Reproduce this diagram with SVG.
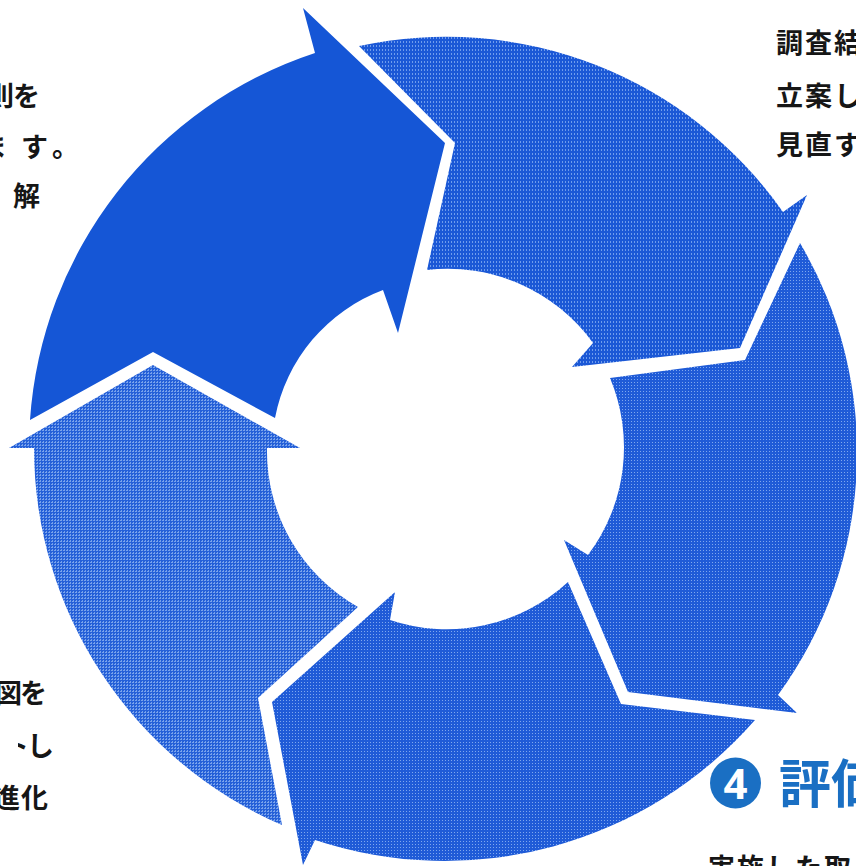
<svg xmlns="http://www.w3.org/2000/svg" width="856" height="866" viewBox="0 0 856 866">
  <style>
    .body { font-family: "Noto Sans CJK JP", "Noto Sans", sans-serif; font-weight: 700; font-size: 27px; fill: #161616; }
    .accent { font-family: "Noto Sans CJK JP", "Noto Sans", sans-serif; font-weight: 700; fill: #1a6fc3; }
    .num { font-family: "Noto Sans", "Liberation Sans", sans-serif; font-weight: 700; fill: #ffffff; }
  </style>
  <defs>
    <pattern id="patA" width="3" height="3" patternUnits="userSpaceOnUse">
      <rect width="3" height="3" fill="#1f5bd7"/>
      <rect x="1" y="1" width="1" height="1" fill="#7ea7ee"/>
    </pattern>
    <pattern id="patB" width="3" height="3" patternUnits="userSpaceOnUse">
      <rect width="3" height="3" fill="#2560d8"/>
      <rect x="1" y="0" width="1" height="1" fill="#78a2ec"/>
      <rect x="0" y="1" width="2" height="1" fill="#78a2ec"/>
    </pattern>
    <pattern id="patC" width="3" height="4" patternUnits="userSpaceOnUse">
      <rect width="3" height="4" fill="#1b58d6"/>
      <rect x="1" y="1" width="1" height="2" fill="#6f9cec"/>
    </pattern>
    <clipPath id="clipTo">
      <rect x="18" y="720" width="8" height="50"/>
    </clipPath>
  </defs>

  <rect width="856" height="866" fill="#ffffff"/>

  <g id="arrow-1">
    <path d="M30,420 A416,416 0 0 1 315,53 L303,8 L445,143 L398,333 L383,290 A171,171 0 0 0 275,418 L153,352 Z" fill="#1556d6"/>
  </g>
  <g id="arrow-2">
    <path d="M359,46 A412,412 0 0 1 783,212 L807,195 L740,348 L572,367 L593,343 A179,179 0 0 0 427,270 L455,143 Z" fill="url(#patC)"/>
  </g>
  <g id="arrow-3">
    <path d="M800,243 A412,412 0 0 1 778,695 L797,713 L628,692 L564,540 L588,555 A179,179 0 0 0 610,378 L745,360 Z" fill="url(#patA)"/>
  </g>
  <g id="arrow-4">
    <path d="M755,720 A412,412 0 0 1 315,840 L303,865 L272,702 L395,592 L390,620 A179,179 0 0 0 568,582 L621,704 Z" fill="url(#patA)"/>
  </g>
  <g id="arrow-5">
    <path d="M282,825 A411,411 0 0 1 34,448 L9,448 L153,365 L300,448 L267,448 A179,179 0 0 0 358,607 L258,698 Z" fill="url(#patB)"/>
  </g>

  <g id="connectors"/>

  <g id="text-top-left">
    <text class="body"><tspan x="-13" y="106">則</tspan><tspan x="13" y="106">を</tspan></text>
    <text class="body"><tspan x="-20" y="157">ま</tspan><tspan x="21" y="157">す</tspan><tspan x="52" y="157">。</tspan></text>
    <text class="body"><tspan x="13" y="206">解</tspan></text>
  </g>

  <g id="text-top-right">
    <text class="body"><tspan x="776" y="53">調</tspan><tspan x="805" y="53">査</tspan><tspan x="834" y="53">結</tspan></text>
    <text class="body"><tspan x="776" y="106">立</tspan><tspan x="805" y="106">案</tspan><tspan x="834" y="106">し</tspan></text>
    <text class="body"><tspan x="776" y="155">見</tspan><tspan x="805" y="155">直</tspan><tspan x="834" y="155">す</tspan></text>
  </g>

  <g id="text-bottom-left">
    <text class="body"><tspan x="-5" y="703">図</tspan><tspan x="20" y="703">を</tspan></text>
    <text class="body" clip-path="url(#clipTo)"><tspan x="2" y="756">ト</tspan></text>
    <text class="body"><tspan x="27" y="756">し</tspan></text>
    <text class="body"><tspan x="-7" y="808">進</tspan><tspan x="21" y="808">化</tspan></text>
  </g>

  <g id="step-4">
    <circle cx="735.5" cy="783" r="25.5" fill="#1a6fc3"/>
    <text class="num" x="735.5" y="799" font-size="42" text-anchor="middle">4</text>
    <text class="accent" font-size="52"><tspan x="779" y="803">評</tspan><tspan x="831" y="803">価</tspan></text>
    <text class="body"><tspan x="708" y="878">実</tspan><tspan x="737" y="878">施</tspan><tspan x="766" y="878">し</tspan><tspan x="795" y="878">た</tspan><tspan x="824" y="878">取</tspan></text>
  </g>
</svg>
